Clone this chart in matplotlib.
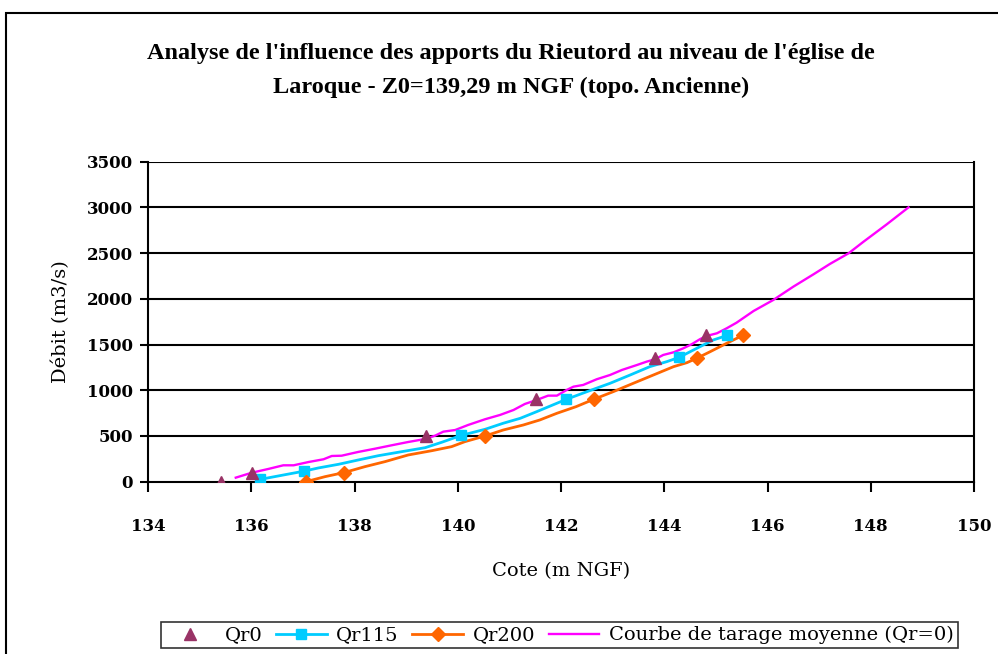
import matplotlib.pyplot as plt
from matplotlib.lines import Line2D
from matplotlib.patches import Rectangle

# Qr0 : points mesurés (triangles)
qr0_x = [135.41, 136.02, 139.38, 141.52, 143.82, 144.80]
qr0_y = [0, 100, 500, 900, 1350, 1600]

# Qr115 : ligne + marqueurs
qr115_x = [136.17, 137.02, 137.30, 137.69, 138.07, 138.46, 138.85, 139.37, 139.69,
           140.06, 140.53, 140.88, 141.21, 141.53, 142.10, 142.50, 142.95, 143.34,
           143.72, 144.05, 144.29, 144.63, 144.95, 145.22]
qr115_y = [25, 115, 150, 190, 237, 284, 322, 372, 431, 505, 573, 639, 693, 766,
           900, 984, 1076, 1167, 1258, 1313, 1360, 1459, 1550, 1600]
qr115_mx = [136.17, 137.02, 140.06, 142.10, 144.29, 145.22]
qr115_my = [25, 115, 505, 900, 1360, 1600]

# Qr200 : ligne + marqueurs
qr200_x = [137.06, 137.43, 137.80, 138.20, 138.59, 139.04, 139.50, 139.88, 140.14,
           140.53, 140.88, 141.27, 141.59, 141.92, 142.29, 142.63, 143.01, 143.40,
           143.79, 144.18, 144.44, 144.63, 144.89, 145.21, 145.52]
qr200_y = [0, 55, 100, 164, 219, 292, 339, 383, 438, 500, 565, 620, 675, 748, 820,
           900, 984, 1076, 1167, 1258, 1302, 1350, 1422, 1514, 1600]
qr200_mx = [137.06, 137.80, 140.53, 142.63, 144.63, 145.52]
qr200_my = [0, 100, 500, 900, 1350, 1600]

# Courbe de tarage moyenne (Qr=0)
courbe_x = [135.70, 136.01, 136.33, 136.62, 136.82, 137.11, 137.40, 137.56, 137.75,
            138.07, 138.40, 138.72, 139.04, 139.37, 139.56, 139.72, 139.95, 140.20,
            140.53, 140.82, 141.08, 141.30, 141.53, 141.75, 141.92, 142.11, 142.24,
            142.43, 142.69, 142.95, 143.18, 143.47, 143.66, 143.82, 143.98, 144.18,
            144.37, 144.53, 144.69, 144.82, 145.02, 145.21, 145.40, 145.73, 146.11,
            146.50, 146.89, 147.21, 147.57, 147.86, 148.31, 148.73]
courbe_y = [44, 98, 139, 179, 179, 215, 245, 281, 284, 325, 361, 398, 434, 467, 503,
            547, 565, 620, 683, 730, 784, 850, 894, 941, 941, 1003, 1039, 1058, 1120,
            1167, 1222, 1276, 1313, 1339, 1386, 1415, 1459, 1503, 1558, 1594, 1623,
            1678, 1739, 1867, 1987, 2133, 2268, 2382, 2498, 2625, 2815, 3000]

x_ticks = [134, 136, 138, 140, 142, 144, 146, 148, 150]
y_ticks = [0, 500, 1000, 1500, 2000, 2500, 3000, 3500]

c_qr0 = '#993366'
c_qr115 = '#00CCFF'
c_qr200 = '#FF6600'
c_courbe = '#FF00FF'

plt.rcParams['font.family'] = ['DejaVu Serif']

fig = plt.figure(figsize=(9.98, 6.54), dpi=100)
ax = fig.add_axes([0.1483, 0.2635, 0.8277, 0.4893])

# cadre extérieur
fig.patches.append(Rectangle((6 / 998, -0.05), 1.1, (654 - 13) / 654 + 0.05,
                             transform=fig.transFigure, fill=False,
                             edgecolor='black', linewidth=1.5))

for yv in y_ticks[1:]:
    ax.axhline(yv, color='black', linewidth=1.5, zorder=1)

ax.plot(courbe_x, courbe_y, color=c_courbe, linewidth=1.7, zorder=3)
ax.plot(qr115_x, qr115_y, color=c_qr115, linewidth=2, zorder=3)
ax.plot(qr200_x, qr200_y, color=c_qr200, linewidth=2, zorder=3)
ax.plot(qr115_mx, qr115_my, 's', color=c_qr115, markersize=7, zorder=4)
ax.plot(qr200_mx, qr200_my, 'D', color=c_qr200, markersize=7, zorder=4)
ax.plot(qr0_x, qr0_y, '^', color=c_qr0, markersize=9, zorder=5)

ax.set_xlim(134, 150)
ax.set_ylim(0, 3500)
ax.set_xticks(x_ticks)
ax.set_yticks(y_ticks)
ax.tick_params(axis='x', direction='out', length=7, width=1.5, pad=19, labelsize=12)
ax.tick_params(axis='y', direction='out', length=6, width=1.5, pad=5, labelsize=12)
for lab in ax.get_xticklabels() + ax.get_yticklabels():
    lab.set_fontweight('bold')

ax.spines['top'].set_visible(False)
for s in ['left', 'bottom', 'right']:
    ax.spines[s].set_linewidth(1.5)

ax.set_xlabel('Cote (m NGF)', fontsize=14, labelpad=20)
ax.set_ylabel('Débit (m3/s)', fontsize=14, labelpad=12)

fig.text(0.512, 0.918, "Analyse de l'influence des apports du Rieutord au niveau de l'église de",
         ha='center', va='center', fontsize=17.5, fontweight='bold',
         family='Liberation Serif')
fig.text(0.512, 0.866, "Laroque - Z0=139,29 m NGF (topo. Ancienne)",
         ha='center', va='center', fontsize=17.5, fontweight='bold',
         family='Liberation Serif')

handles = [
    Line2D([], [], linestyle='none', marker='^', color=c_qr0, markersize=8),
    Line2D([], [], color=c_qr115, linewidth=2, marker='s', markersize=7),
    Line2D([], [], color=c_qr200, linewidth=2, marker='D', markersize=7),
    Line2D([], [], color=c_courbe, linewidth=1.7),
]
labels = ['Qr0', 'Qr115', 'Qr200', 'Courbe de tarage moyenne (Qr=0)']
leg = fig.legend(handles, labels, loc='center', bbox_to_anchor=(0.5603, 0.0285),
                 ncol=4, frameon=True, fancybox=False, edgecolor='black',
                 fontsize=14, handlelength=2.6, columnspacing=0.7,
                 handletextpad=0.5, borderpad=0.2)
leg.get_frame().set_linewidth(1.2)

fig.savefig('out.png', dpi=100)
